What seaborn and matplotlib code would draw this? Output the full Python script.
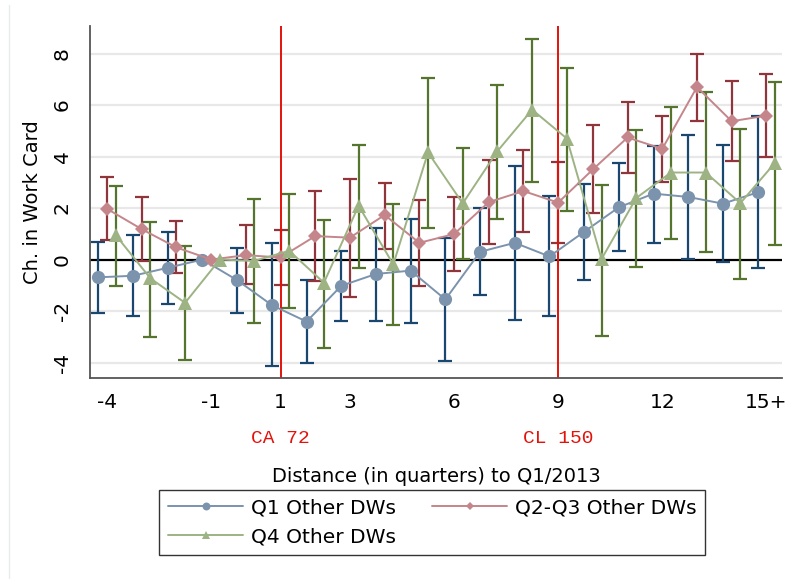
import numpy as np
import pandas as pd
import matplotlib
matplotlib.use("Agg")
import matplotlib.pyplot as plt
import seaborn as sns
from matplotlib.lines import Line2D

nan = np.nan
quarters = list(range(-4, 16))
tick_labels = {-4: "-4", -1: "-1", 1: "1", 3: "3", 6: "6", 9: "9", 12: "12", 15: "15+"}

q1_val = [-0.69, -0.63, -0.32, 0.0, -0.80, -1.77, -2.41, -1.02, -0.56, -0.43,
          -1.55, 0.30, 0.65, 0.12, 1.08, 2.03, 2.56, 2.43, 2.17, 2.61]
q1_hi = [0.69, 0.95, 1.07, nan, 0.46, 0.63, -0.78, 0.34, 1.24, 1.57,
         0.82, 1.99, 3.63, 2.48, 2.93, 3.76, 4.41, 4.83, 4.43, 5.56]
q1_lo = [-2.07, -2.19, -1.71, nan, -2.09, -4.14, -4.03, -2.39, -2.38, -2.45,
         -3.94, -1.39, -2.36, -2.21, -0.80, 0.32, 0.65, 0.02, -0.11, -0.32]

q23_val = [1.97, 1.18, 0.47, 0.0, 0.17, 0.08, 0.91, 0.85, 1.73, 0.65,
           0.99, 2.23, 2.66, 2.21, 3.50, 4.74, 4.30, 6.70, 5.37, 5.59]
q23_hi = [3.19, 2.44, 1.50, nan, 1.34, 1.16, 2.66, 3.14, 2.98, 2.31,
          2.43, 3.85, 4.25, 3.80, 5.22, 6.12, 5.59, 7.99, 6.92, 7.20]
q23_lo = [0.77, -0.07, -0.54, nan, -0.96, -0.99, -0.83, -1.46, 0.42, -1.02,
          -0.43, 0.61, 1.07, 0.64, 1.79, 3.37, 3.01, 5.39, 3.81, 4.00]

q4_val = [0.95, -0.73, -1.68, 0.0, -0.05, 0.34, -0.90, 2.09, -0.19, 4.16,
          2.18, 4.21, 5.82, 4.70, 0.02, 2.39, 3.38, 3.38, 2.19, 3.76]
q4_hi = [2.87, 1.44, 0.52, nan, 2.34, 2.56, 1.55, 4.43, 2.15, 7.04,
         4.32, 6.78, 8.56, 7.42, 2.88, 5.03, 5.91, 6.49, 5.08, 6.91]
q4_lo = [-1.02, -3.00, -3.92, nan, -2.47, -1.89, -3.42, -0.33, -2.56, 1.24,
         0.01, 1.59, 3.01, 1.87, -2.95, -0.28, 0.80, 0.28, -0.76, 0.55]

series_names = ["Q1 Other DWs", "Q2-Q3 Other DWs", "Q4 Other DWs"]
events = {1: "CA 72", 9: "CL 150"}

sns.set_style("white")
plt.rcParams["font.family"] = ["DejaVu Sans"]
plt.rcParams["text.color"] = "black"
plt.rcParams["axes.labelcolor"] = "black"
plt.rcParams["xtick.labelcolor"] = "black"
plt.rcParams["ytick.labelcolor"] = "black"

fig = plt.figure(figsize=(7.87, 5.79), dpi=100)
ax = fig.add_axes([90 / 787, 1 - 378 / 579, 692 / 787, 352 / 579])

specs = [
    (series_names[0], q1_val, q1_hi, q1_lo, -0.25, "o", 9.5, "#7b93ad", "#1a476f"),
    (series_names[1], q23_val, q23_hi, q23_lo, 0.0, "D", 7.0, "#c4868a", "#90353b"),
    (series_names[2], q4_val, q4_hi, q4_lo, 0.25, "^", 10.0, "#9db384", "#55752f"),
]

for y in [-4, -2, 2, 4, 6, 8]:
    ax.axhline(y, color="#e8e8e8", lw=1.6, zorder=0)
ax.axhline(0, color="black", lw=1.6, zorder=1.5)

for name, val, hi, lo, off, mk, ms, col, ecol in specs:
    x = np.array(quarters, dtype=float) + off
    v = np.array(val)
    h = np.array(hi)
    l = np.array(lo)
    ax.errorbar(x, v, yerr=[v - l, h - v], fmt="none", ecolor=ecol,
                elinewidth=1.6, capsize=5, capthick=1.6, zorder=2)
    df = pd.DataFrame({"x": x, "y": v})
    sns.lineplot(data=df, x="x", y="y", ax=ax, color=col, marker=mk,
                 markersize=ms, markeredgecolor=col, markeredgewidth=0,
                 linewidth=1.4, label=name, zorder=3)

for q, txt in events.items():
    ax.axvline(q, color="#e3120b", lw=1.4, zorder=2.5)
    ax.text(q, -0.173, txt, transform=ax.get_xaxis_transform(), ha="center",
            va="center", color="#e3120b", fontsize=14, family="Liberation Mono")

ax.set_xlim(-4.49, 15.45)
ax.set_ylim(-4.60, 9.07)
ax.set_xticks(quarters)
ax.set_xticklabels([tick_labels.get(q, "") for q in quarters])
ax.set_yticks([-4, -2, 0, 2, 4, 6, 8])
ax.set_yticklabels(["-4", "-2", "0", "2", "4", "6", "8"], rotation=90, va="center")
ax.tick_params(axis="both", length=5, width=1.2, color="#555555", labelsize=14.5,
               labelcolor="black", direction="out", pad=4)
ax.tick_params(axis="x", pad=6)
ax.tick_params(axis="y", pad=8)

for s in ["top", "right"]:
    ax.spines[s].set_visible(False)
for s in ["left", "bottom"]:
    ax.spines[s].set_color("#555555")
    ax.spines[s].set_linewidth(1.3)

ax.set_ylabel("Ch. in Work Card", fontsize=14, color="black")
ax.yaxis.set_label_coords(-0.069, 0.5)
ax.set_xlabel("Distance (in quarters) to Q1/2013", fontsize=14, color="black")
ax.xaxis.set_label_coords(0.5, -0.253)

handles, labels = ax.get_legend_handles_labels()
ax.get_legend().remove()
order = [0, 2, 1]
leg = fig.legend([handles[i] for i in order], [labels[i] for i in order],
                 loc="center", bbox_to_anchor=(0.549, 0.0976),
                 ncol=2, fontsize=14.5, frameon=True, fancybox=False,
                 edgecolor="black", handlelength=3.75, handletextpad=0.36,
                 columnspacing=1.8, labelspacing=0.5, borderpad=0.42,
                 markerscale=0.6)
leg.get_frame().set_linewidth(1.0)
for t in leg.get_texts():
    t.set_color("black")

fig.add_artist(Line2D([9 / 787, 9 / 787], [0, 1 - 5 / 579], color="#e6ecec", lw=1.0))

fig.savefig("out.png", dpi=100)
